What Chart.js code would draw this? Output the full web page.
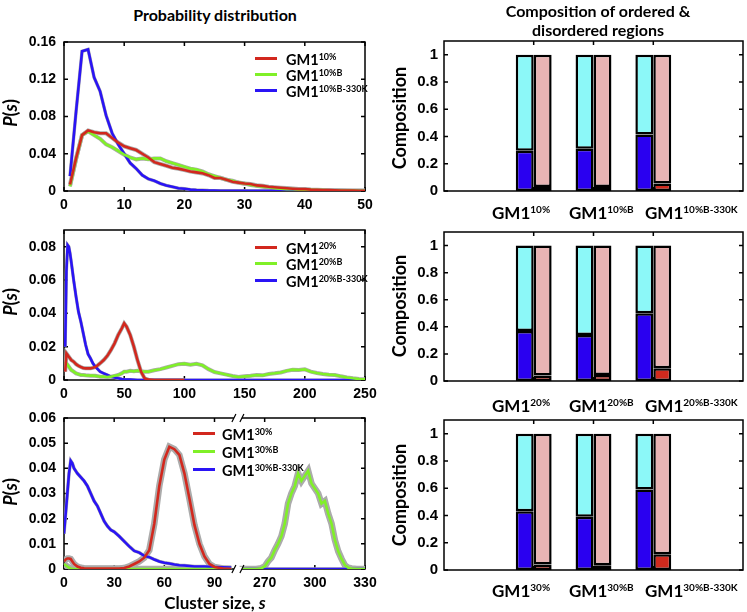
<!DOCTYPE html>
<html>
<head>
<meta charset="utf-8">
<script src="https://cdn.jsdelivr.net/npm/chart.js@4.4.1/dist/chart.umd.min.js"></script>
<style>
  body { margin: 0; background: #fff; }
  #fig { position: relative; width: 747px; height: 612px; overflow: hidden; font-family: Lato, 'Open Sans', sans-serif; color: #000; }
  canvas { position: absolute; }
  .c { position: absolute; transform: translate(-50%, -50%); white-space: nowrap; font-weight: bold; line-height: 1; }
  .rot { transform: translate(-50%, -50%) rotate(-90deg); }
  .cat { position: absolute; transform: translateY(-50%); white-space: nowrap; font-weight: bold; font-size: 17px; line-height: 1; }
  .cat sup { font-size: 10px; }
  .lt { position: absolute; transform: translateY(-50%); white-space: nowrap; font-weight: bold; font-size: 14.5px; line-height: 1; }
  .lt sup { font-size: 9px; }
  .sw { position: absolute; width: 22px; height: 3px; }
  sup { vertical-align: 0; position: relative; top: -0.6em; }
</style>
</head>
<body>
<div id="fig">
  <canvas id="l1" width="377" height="184" style="left:0;top:32px"></canvas>
  <canvas id="l2" width="377" height="185" style="left:0;top:220px"></canvas>
  <canvas id="l3" width="377" height="190" style="left:0;top:408px"></canvas>
  <canvas id="r1" width="375" height="180" style="left:372px;top:31px"></canvas>
  <canvas id="r2" width="375" height="180" style="left:372px;top:222px"></canvas>
  <canvas id="r3" width="375" height="180" style="left:372px;top:410px"></canvas>

  <div class="c" style="left:215px;top:15px;font-size:16px">Probability distribution</div>
  <div class="c" style="left:598px;top:11px;font-size:16px">Composition of ordered &amp;</div>
  <div class="c" style="left:598px;top:30px;font-size:16px">disordered regions</div>

  <div class="c rot" style="left:10px;top:113px;font-size:18px"><i>P</i>(<i>s</i>)</div>
  <div class="c rot" style="left:10px;top:302px;font-size:18px"><i>P</i>(<i>s</i>)</div>
  <div class="c rot" style="left:10px;top:492px;font-size:18px"><i>P</i>(<i>s</i>)</div>
  <div class="c" style="left:215px;top:602px;font-size:17px">Cluster size, <i>s</i></div>

  <div class="c rot" style="left:399px;top:118px;font-size:18px">Composition</div>
  <div class="c rot" style="left:399px;top:306px;font-size:18px">Composition</div>
  <div class="c rot" style="left:399px;top:495px;font-size:18px">Composition</div>

  <div class="cat" style="left:492px;top:212px">GM1<sup>10%</sup></div>
  <div class="cat" style="left:569px;top:212px">GM1<sup>10%B</sup></div>
  <div class="cat" style="left:645px;top:212px">GM1<sup>10%B-330K</sup></div>
  <div class="cat" style="left:492px;top:405px">GM1<sup>20%</sup></div>
  <div class="cat" style="left:569px;top:405px">GM1<sup>20%B</sup></div>
  <div class="cat" style="left:645px;top:405px">GM1<sup>20%B-330K</sup></div>
  <div class="cat" style="left:492px;top:590px">GM1<sup>30%</sup></div>
  <div class="cat" style="left:569px;top:590px">GM1<sup>30%B</sup></div>
  <div class="cat" style="left:645px;top:590px">GM1<sup>30%B-330K</sup></div>

  <div class="sw" style="left:255px;top:57px;background:#d2281e"></div>
  <div class="lt" style="left:286px;top:60px">GM1<sup>10%</sup></div>
  <div class="sw" style="left:255px;top:73px;background:#80f028"></div>
  <div class="lt" style="left:286px;top:76px">GM1<sup>10%B</sup></div>
  <div class="sw" style="left:255px;top:89px;background:#2a14f5"></div>
  <div class="lt" style="left:286px;top:92px">GM1<sup>10%B-330K</sup></div>

  <div class="sw" style="left:255px;top:246px;background:#d2281e"></div>
  <div class="lt" style="left:286px;top:249px">GM1<sup>20%</sup></div>
  <div class="sw" style="left:255px;top:262px;background:#80f028"></div>
  <div class="lt" style="left:286px;top:265px">GM1<sup>20%B</sup></div>
  <div class="sw" style="left:255px;top:279px;background:#2a14f5"></div>
  <div class="lt" style="left:286px;top:282px">GM1<sup>20%B-330K</sup></div>

  <div class="sw" style="left:193px;top:432px;background:#d2281e"></div>
  <div class="lt" style="left:222px;top:435px">GM1<sup>30%</sup></div>
  <div class="sw" style="left:193px;top:450px;background:#80f028"></div>
  <div class="lt" style="left:222px;top:453px">GM1<sup>30%B</sup></div>
  <div class="sw" style="left:193px;top:468px;background:#2a14f5"></div>
  <div class="lt" style="left:222px;top:471px">GM1<sup>30%B-330K</sup></div>
</div>
<script>
// ---- panel 1: 10% ----
const s10 = [1,2,3,4,5,6,7,8,9,10,11,12,13,14,15,16,17,18,19,20,21,22,23,24,25,
  26,27,28,29,30,31,32,33,34,35,36,37,38,39,40,41,42,43,44,45,46,47,48,49,50];
const p10 = [0.007,0.035,0.060,0.065,0.063,0.062,0.062,0.057,0.052,0.048,
  0.046,0.044,0.040,0.036,0.031,0.029,0.027,0.025,0.024,0.0225,
  0.021,0.020,0.019,0.017,0.014,0.014,0.012,0.010,0.009,0.008,
  0.0075,0.006,0.0055,0.0045,0.004,0.0035,0.003,0.0025,0.002,0.002,
  0.0015,0.0012,0.001,0.001,0.0008,0.0006,0.0005,0.0004,0.0003,0.0003];
const p10B = [0.005,0.034,0.060,0.064,0.060,0.056,0.050,0.047,0.043,0.039,
  0.036,0.034,0.035,0.034,0.035,0.035,0.032,0.030,0.028,0.026,
  0.024,0.023,0.021,0.018,0.016,0.014,0.012,0.011,0.009,0.008,
  0.0065,0.0055,0.0045,0.004,0.003,0.0025,0.002,0.002,0.0015,0.0015,
  0.0012,0.001,0.001,0.0008,0.0007,0.0006,0.0005,0.0004,0.0003,0.0003];
const p10BK = [0.016,0.085,0.150,0.152,0.122,0.107,0.081,0.062,0.050,0.040,
  0.030,0.024,0.017,0.013,0.011,0.008,0.006,0.0045,0.003,0.0025,
  0.0015,0.001,0.0008,0.0005,0.0004,0.0003,0.0003,0.0002,0.0002,0.0002,
  0.0001,0.0001,0.0001,0.0001,0.0001,0,0,0,0,0,
  0,0,0,0,0,0,0,0,0,0];

// ---- panel 2: 20% ----
const s20 = [1,2,3,4,5,6,8,10,12,14,16,18,20,22,24,26,28,30,33,36,39,42,45,48,50,52,
  55,58,61,64,67,70,75,80,85,90,95,100,105,110,115,120,125,130,135,140,145,150,
  155,160,165,170,175,180,185,190,195,200,205,210,215,220,225,230,235,240,245,250];
const p20 = [0.005,0.016,0.015,0.014,0.013,0.012,
  0.011,0.0095,0.0085,0.0078,0.0072,0.007,0.007,0.007,0.0073,0.0078,0.0088,0.010,
  0.012,0.0145,0.018,0.022,0.027,0.031,0.034,0.032,
  0.027,0.020,0.012,0.005,0.001,0.0002,
  0,0,0,0,0,0,
  null,null,null,null,null,null,null,null,null,null,null,null,null,null,null,
  null,null,null,null,null,null,null,null,null,null,null,null,null,null,null];
const p20B = [0.011,0.010,0.009,0.008,0.007,0.006,
  0.005,0.004,0.0035,0.003,0.003,0.0028,0.0027,0.0026,0.0026,0.0025,0.0023,0.002,
  0.002,0.0018,0.002,0.0025,0.003,0.004,0.005,0.005,
  0.0055,0.0052,0.0056,0.0052,0.005,0.005,
  0.0058,0.0065,0.0075,0.0085,0.0095,0.0098,
  0.0092,0.0097,0.0088,0.0065,0.0048,0.004,0.0032,0.0024,0.0018,0.0022,0.0025,0.003,0.0028,0.0036,0.004,
  0.0045,0.0055,0.0062,0.006,0.0064,0.005,0.0042,0.0036,0.0032,0.003,0.0022,0.0015,0.001,0.0006,0.0004];
const p20BK = [0.02,0.065,0.081,0.080,0.076,0.071,
  0.060,0.050,0.041,0.035,0.028,0.021,0.0155,0.013,0.010,0.008,0.0065,0.005,
  0.004,0.003,0.002,0.0015,0.001,0.0006,0.0004,0.0003,
  0.0002,0.0001,0,0,0,0,
  0,0,0,0,0,0,
  0,0,0,0,0,0,0,0,0,0,0,0,0,0,0,
  0,0,0,0,0,0,0,0,0,0,0,0,0,0,0];

// ---- panel 3: 30% (broken x axis) ----
const s30L = [0,1,2,3,4,5,6,7,8,10,12,14,16,18,20,22,24,26,28,30,
  33,36,39,42,45,48,51,54,57,60,63,66,69,72,75,78,81,84,87,90,95,100];
const s30R = [255,260,265,268,270,272,274,276,278,280,282,284,286,288,290,292,294,
  296,298,300,302,304,306,308,310,312,314,316,318,320,322,325,330];
const p30 = [0.003,0.0038,0.0042,0.0042,0.004,0.003,0.002,0.0015,0.001,
  0.0005,0.0003,0.0002,0.0002,0.0002,0.0002,0.0002,0.0002,0.0002,0.0002,0.0002,
  0.0002,0.0004,0.001,0.002,0.003,0.0045,0.0075,0.018,0.033,0.0435,
  0.0486,0.0476,0.0453,0.038,0.028,0.0175,0.010,0.005,0.002,0.0008,0.0002,0];
const p30B_L = [0.002,0.0015,0.001,0.0005,0.0002,0,0,0,0,
  0,0,0,0,0,0,0,0,0,0,0,
  0,0,0,0,0,0,0,0,0,0,0,0,0,0,0,0,0,0,0,0,0,0];
const p30B_R = [0,0,0,0.0003,0.001,0.003,0.0045,0.0075,0.010,0.013,0.018,0.026,0.030,
  0.033,0.038,0.035,0.037,0.039,0.034,0.032,0.030,0.026,0.027,0.022,0.018,0.0115,
  0.007,0.004,0.0015,0.0005,0.0002,0,0];
const p30BK_L = [0.014,0.022,0.030,0.038,0.043,0.042,0.040,0.039,0.038,
  0.0365,0.035,0.033,0.030,0.027,0.025,0.022,0.019,0.017,0.0155,0.0148,
  0.013,0.011,0.009,0.0072,0.0065,0.0052,0.0047,0.0038,0.003,0.0025,
  0.0022,0.0018,0.0015,0.0014,0.0012,0.001,0.001,0.001,0.0009,0.0008,0.0007,0.0006];
const p30BK_R = [0,0,0,0,0,0,0,0,0,0,0,0,0,0,0,0,0,0,0,0,0,0,0,0,0,0,0,0,0,0,0,0,0];
const BREAK_FROM = 150;   // values above this are shifted left by it

// ---- composition bars ----
const groupPos = [1, 2, 3];
const ord10 = [0.295, 0.31, 0.415], ordRest10 = [0.705, 0.69, 0.585];
const dis10 = [0.03, 0.03, 0.055],  disRest10 = [0.97, 0.97, 0.945];
const ord20 = [0.37, 0.34, 0.50],   ordRest20 = [0.63, 0.66, 0.50];
const dis20 = [0.04, 0.045, 0.095], disRest20 = [0.96, 0.955, 0.905];
const ord30 = [0.43, 0.39, 0.59],   ordRest30 = [0.57, 0.61, 0.41];
const dis30 = [0.04, 0.035, 0.115], disRest30 = [0.96, 0.965, 0.885];

const RED = '#d2281e', GREEN = '#80f028', BLUE = '#2a14f5', BAND = '#ababab';
const BAR_BLUE = '#2a00f0', CYAN = '#8cf8f8', PINK = '#e8b4b4', BAR_RED = '#d02a1e';
const tickFont = { family: "'Liberation Sans', Arial, sans-serif", size: 14, weight: 'bold' };
const barTickFont = { family: "'Liberation Sans', Arial, sans-serif", size: 15, weight: 'bold' };

const pts = (xs, ys, f) => xs.map((x, i) => ({ x: f ? f(x) : x, y: ys[i] }));
const shiftX = s => (s > BREAK_FROM ? s - BREAK_FROM : s);

// keep the plot area exactly where layout.padding + axis sizes put it
const fixX = h => s => { s.height = h; s.paddingLeft = 0; s.paddingRight = 0; };
const fixY = w => s => { s.width = w; s.paddingTop = 0; s.paddingBottom = 0; };

// box around the plot area, inward ticks, optional axis break
const framePlugin = {
  id: 'frame',
  beforeDatasetsDraw(chart, args, opts) {
    const { ctx, chartArea: a, scales } = chart;
    ctx.save();
    ctx.strokeStyle = '#000';
    ctx.lineWidth = 1.5;
    ctx.strokeRect(a.left, a.top, a.right - a.left, a.bottom - a.top);
    const len = 4;
    ctx.beginPath();
    const xt = scales.x.ticks;
    xt.forEach((t, i) => {
      if (opts.skipEnds && (i === 0 || i === xt.length - 1)) return;
      const px = scales.x.getPixelForTick(i);
      ctx.moveTo(px, a.top); ctx.lineTo(px, a.top + len);
      ctx.moveTo(px, a.bottom); ctx.lineTo(px, a.bottom - len);
    });
    scales.y.ticks.forEach((t, i) => {
      const py = scales.y.getPixelForTick(i);
      ctx.moveTo(a.left, py); ctx.lineTo(a.left + len, py);
      ctx.moveTo(a.right, py); ctx.lineTo(a.right - len, py);
    });
    ctx.stroke();
    ctx.restore();
  },
  afterDatasetsDraw(chart, args, opts) {
    if (opts.breakAt == null) return;
    const { ctx, chartArea: a, scales } = chart;
    const px = scales.x.getPixelForValue(opts.breakAt);
    ctx.save();
    ctx.fillStyle = '#fff';
    [a.top, a.bottom].forEach(y => {
      ctx.fillRect(px - 4, y - 2, 8, 4);
      ctx.beginPath();
      ctx.strokeStyle = '#000';
      ctx.lineWidth = 1.2;
      ctx.moveTo(px - 6, y + 4); ctx.lineTo(px - 2, y - 4);
      ctx.moveTo(px + 2, y + 4); ctx.lineTo(px + 6, y - 4);
      ctx.stroke();
    });
    ctx.restore();
  }
};

function lineDatasets(list) {
  const ds = [];
  list.forEach((l, i) => {
    ds.push({ data: l.data, borderColor: l.color, borderWidth: 2.6, order: i });
    ds.push({ data: l.data, borderColor: BAND, borderWidth: l.band, order: 10 + i });
  });
  return ds;
}

function lineChart(id, list, x, y, xh, frame) {
  return new Chart(document.getElementById(id), {
    type: 'line',
    data: { datasets: lineDatasets(list) },
    options: {
      responsive: false,
      animation: false,
      layout: { padding: { top: 10, right: 12, left: 0, bottom: 0 } },
      elements: { point: { radius: 0 }, line: { tension: 0 } },
      plugins: { legend: { display: false }, tooltip: { enabled: false }, frame: frame || {} },
      scales: {
        x: {
          type: 'linear', min: x.min, max: x.max,
          grid: { display: false, drawTicks: false }, border: { display: false },
          ticks: { stepSize: x.step, font: tickFont, color: '#000', padding: 6, maxRotation: 0,
                   callback: x.label || (v => v) },
          afterFit: fixX(xh)
        },
        y: {
          min: 0, max: y.max,
          grid: { display: false, drawTicks: false }, border: { display: false },
          ticks: { stepSize: y.step, includeBounds: false, font: tickFont, color: '#000', padding: 8 },
          afterFit: fixY(64)
        }
      }
    },
    plugins: [framePlugin]
  });
}

function barChart(id, ord, ordRest, dis, disRest, xh) {
  const bar = (vals, color, stack) => ({ data: pts(groupPos, vals), backgroundColor: color, stack });
  return new Chart(document.getElementById(id), {
    type: 'bar',
    data: { datasets: [
      bar(ord, BAR_BLUE, 'ordered'), bar(ordRest, CYAN, 'ordered'),
      bar(dis, BAR_RED, 'disordered'), bar(disRest, PINK, 'disordered')
    ] },
    options: {
      responsive: false,
      animation: false,
      layout: { padding: { top: 10, right: 4, left: 0, bottom: 0 } },
      datasets: { bar: { borderColor: '#000', borderWidth: 2.5, borderSkipped: false,
                         categoryPercentage: 0.6, barPercentage: 1 } },
      plugins: { legend: { display: false }, tooltip: { enabled: false }, frame: { skipEnds: true } },
      scales: {
        x: {
          type: 'linear', min: 0, max: 4, stacked: true,
          grid: { display: false, drawTicks: false }, border: { display: false },
          ticks: { stepSize: 1, display: false },
          afterFit: fixX(xh)
        },
        y: {
          stacked: true, min: 0, max: 1.1,
          grid: { display: false, drawTicks: false }, border: { display: false },
          ticks: { stepSize: 0.2, includeBounds: false, font: barTickFont, color: '#000', padding: 6,
                   callback: v => String(+v.toFixed(1)) },
          afterFit: fixY(72)
        }
      }
    },
    plugins: [framePlugin]
  });
}

lineChart('l1', [
  { data: pts(s10, p10), color: RED, band: 4.2 },
  { data: pts(s10, p10B), color: GREEN, band: 4 },
  { data: pts(s10, p10BK), color: BLUE, band: 3.4 }
], { min: 0, max: 50, step: 10 }, { max: 0.16, step: 0.04 }, 25);

lineChart('l2', [
  { data: pts(s20, p20), color: RED, band: 4 },
  { data: pts(s20, p20B), color: GREEN, band: 4 },
  { data: pts(s20, p20BK), color: BLUE, band: 3.2 }
], { min: 0, max: 250, step: 50 }, { max: 0.09, step: 0.02 }, 25);

const gap = { x: 102, y: null };
lineChart('l3', [
  { data: pts(s30L, p30, shiftX), color: RED, band: 6.5 },
  { data: [...pts(s30L, p30B_L, shiftX), gap, ...pts(s30R, p30B_R, shiftX)], color: GREEN, band: 6.5 },
  { data: [...pts(s30L, p30BK_L, shiftX), gap, ...pts(s30R, p30BK_R, shiftX)], color: BLUE, band: 3.4 }
], { min: 0, max: 180, step: 30, label: v => (v >= 120 ? v + BREAK_FROM : v) },
   { max: 0.06, step: 0.01 }, 29, { breakAt: 104 });

barChart('r1', ord10, ordRest10, dis10, disRest10, 20);
barChart('r2', ord20, ordRest20, dis20, disRest20, 21);
barChart('r3', ord30, ordRest30, dis30, disRest30, 20);
</script>
</body>
</html>
